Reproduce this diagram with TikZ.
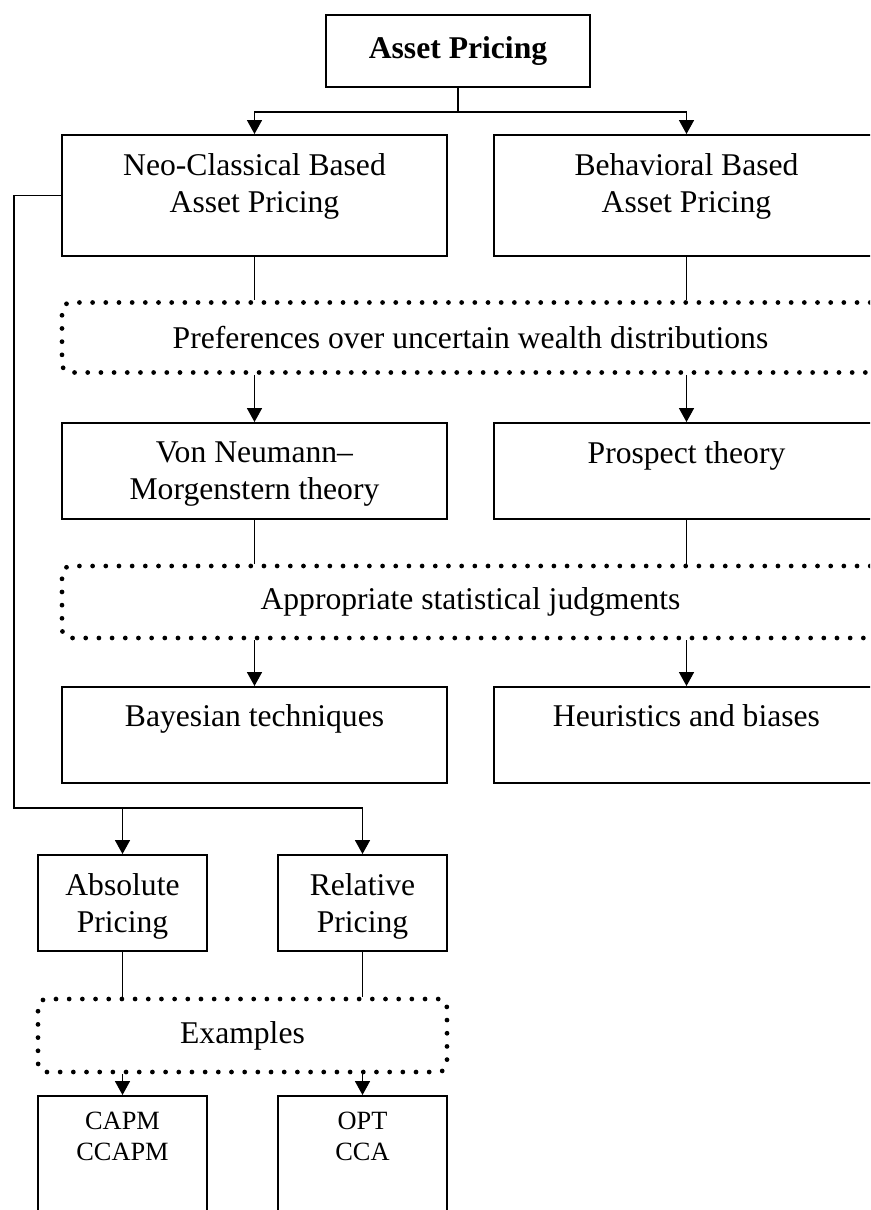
\documentclass[tikz,border=0pt]{standalone}
\usepackage{fontspec}
\setmainfont{Liberation Serif}
\usetikzlibrary{positioning, arrows.meta}

\begin{document}
\begin{tikzpicture}[font=\fontsize{18}{21}\selectfont,
  box/.style={draw=black, line width=1.1pt, minimum width=7.7cm, minimum height=1.92cm},
  smallbox/.style={box, minimum width=3.38cm},
  dotbox/.style={draw=black, line width=2.7pt, line cap=round, dash pattern=on 0pt off 7.5pt, rounded corners=5pt, minimum width=16.34cm, minimum height=1.4cm},
  lbl/.style={inner sep=0pt, align=center},
  link/.style={line width=0.75pt},
  arr/.style={link, -{Triangle[width=8.5pt, length=7.9pt]}}]
  \useasboundingbox (0,0) rectangle (17.4,-24.2);
  \clip (0,0) rectangle (17.4,-24.2);
  % top level
  \node[box, minimum width=5.28cm, minimum height=1.44cm, font=\fontsize{18}{21}\selectfont\bfseries] (top) at (9.16,-1.02) {Asset Pricing};
  \node[box, minimum height=2.42cm] (neo) at (5.09,-3.91) {};
  \node[lbl, below=0.38cm of neo.north] (neotxt) {Neo-Classical Based\\Asset Pricing};
  \node[box, minimum height=2.42cm] (beh) at (13.73,-3.91) {};
  \node[lbl, below=0.38cm of beh.north] (behtxt) {Behavioral Based\\Asset Pricing};
  \draw[arr] (top.south) -- ++(0,-0.48) -| (neo.north);
  \draw[arr] (top.south) -- ++(0,-0.48) -| (beh.north);
  % preferences
  \node[dotbox] (pref) at (9.41,-6.75) {Preferences over uncertain wealth distributions};
  \node[box] (vnm) at (5.09,-9.42) {};
  \node[lbl, below=0.38cm of vnm.north] (vnmtxt) {Von Neumann--\\Morgenstern theory};
  \node[box] (pros) at (13.73,-9.42) {};
  \node[lbl, below=0.38cm of pros.north] (prostxt) {Prospect theory};
  \draw[link] (neo.south) -- (neo.south |- pref.north);
  \draw[link] (beh.south) -- (beh.south |- pref.north);
  \draw[arr] (pref.south -| vnm.north) -- (vnm.north);
  \draw[arr] (pref.south -| pros.north) -- (pros.north);
  % judgments
  \node[dotbox, minimum height=1.44cm] (judg) at (9.41,-12.04) {Appropriate statistical judgments};
  \node[box] (bayes) at (5.09,-14.70) {};
  \node[lbl, below=0.36cm of bayes.north] (bayestxt) {Bayesian techniques};
  \node[box] (heur) at (13.73,-14.70) {};
  \node[lbl, below=0.36cm of heur.north] (heurtxt) {Heuristics and biases};
  \draw[link] (vnm.south) -- (vnm.south |- judg.north);
  \draw[link] (pros.south) -- (pros.south |- judg.north);
  \draw[arr] (judg.south -| bayes.north) -- (bayes.north);
  \draw[arr] (judg.south -| heur.north) -- (heur.north);
  % pricing approaches
  \coordinate (bend) at (0.28,-16.16);
  \node[smallbox] (abs) at (2.45,-18.06) {};
  \node[lbl, below=0.38cm of abs.north] (abstxt) {Absolute\\Pricing};
  \node[smallbox] (rel) at (7.25,-18.06) {};
  \node[lbl, below=0.38cm of rel.north] (reltxt) {Relative\\Pricing};
  \draw[arr] (neo.west) -| (bend) -| (abs.north);
  \draw[arr] (bend) -| (rel.north);
  % examples
  \node[dotbox, minimum width=8.18cm, minimum height=1.46cm] (ex) at (4.85,-20.71) {Examples};
  \node[smallbox, minimum height=3cm] (capm) at (2.45,-23.42) {};
  \node[lbl, below=0.34cm of capm.north, font=\fontsize{15}{17.6}\selectfont] (capmtxt) {CAPM\\CCAPM};
  \node[smallbox, minimum height=3cm] (opt) at (7.25,-23.42) {};
  \node[lbl, below=0.34cm of opt.north, font=\fontsize{15}{17.6}\selectfont] (opttxt) {OPT\\CCA};
  \draw[link] (abs.south) -- (abs.south |- ex.north);
  \draw[link] (rel.south) -- (rel.south |- ex.north);
  \draw[arr] (ex.south -| capm.north) -- (capm.north);
  \draw[arr] (ex.south -| opt.north) -- (opt.north);
\end{tikzpicture}
\end{document}
